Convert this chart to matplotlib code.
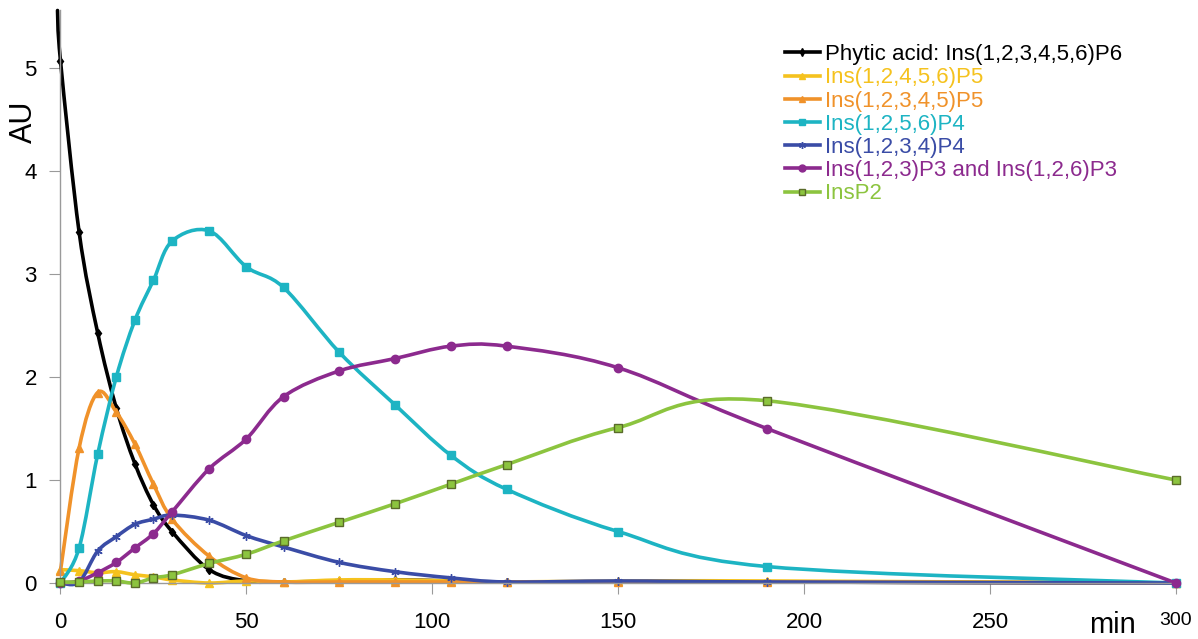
import numpy as np
import matplotlib
matplotlib.use("Agg")
import matplotlib.pyplot as plt
from matplotlib.path import Path
from matplotlib.patches import PathPatch
from matplotlib.lines import Line2D

plt.rcParams['font.family'] = ['Liberation Sans', 'DejaVu Sans']

# sampling times (min)
t = [0, 5, 10, 15, 20, 25, 30, 40, 50, 60, 75, 90, 105, 120, 150, 190, 300]

ip6 = [5.07, 3.41, 2.43, 1.70, 1.16, 0.76, 0.50, 0.13, 0.02, 0.01, 0.02, 0.03, 0.02, 0.01, 0.01, 0.01, 0.0]
ip5a = [0.13, 0.12, 0.10, 0.11, 0.08, 0.06, 0.03, 0.0, 0.02, 0.01, 0.03, 0.03, 0.02, 0.01, 0.02, 0.02, 0.0]
ip5b = [0.12, 1.31, 1.85, 1.66, 1.35, 0.96, 0.62, 0.26, 0.05, 0.01, 0.01, 0.01, 0.01, 0.01, 0.01, 0.01, 0.0]
ip4a = [0.0, 0.34, 1.25, 2.00, 2.55, 2.94, 3.32, 3.42, 3.07, 2.87, 2.24, 1.73, 1.24, 0.91, 0.50, 0.16, 0.0]
ip4b = [0.0, 0.01, 0.31, 0.45, 0.57, 0.62, 0.66, 0.61, 0.46, 0.35, 0.20, 0.11, 0.05, 0.01, 0.02, 0.01, 0.0]
ip3 = [0.0, 0.02, 0.10, 0.20, 0.34, 0.48, 0.69, 1.11, 1.40, 1.81, 2.06, 2.18, 2.30, 2.30, 2.09, 1.50, 0.0]
ip2 = [0.01, 0.01, 0.02, 0.02, 0.0, 0.05, 0.08, 0.19, 0.28, 0.41, 0.59, 0.77, 0.96, 1.15, 1.51, 1.77, 1.00]

labels = ["Phytic acid: Ins(1,2,3,4,5,6)P6", "Ins(1,2,4,5,6)P5", "Ins(1,2,3,4,5)P5",
          "Ins(1,2,5,6)P4", "Ins(1,2,3,4)P4", "Ins(1,2,3)P3 and Ins(1,2,6)P3", "InsP2"]
colors = ["#000000", "#F5C21E", "#F0922A", "#1DB4C3", "#3A4CA6", "#8C2A8E", "#8CC43F"]
markers = ["d", "^", "^", "s", (6, 2, 0), "o", "s"]


def smooth_path(x, y):
    # Excel-like smoothed line: cubic bezier through every point
    p = np.column_stack([x, y]).astype(float)
    n = len(p)
    verts = [p[0]]
    codes = [Path.MOVETO]
    for i in range(n - 1):
        p0 = p[i - 1] if i > 0 else p[i]
        p3 = p[i + 2] if i + 2 < n else p[i + 1]
        c1 = p[i] + (p[i + 1] - p0) / 6
        c2 = p[i + 1] - (p3 - p[i]) / 6
        verts += [c1, c2, p[i + 1]]
        codes += [Path.CURVE4] * 3
    return Path(verts, codes)


fig = plt.figure(figsize=(11.98, 6.39), dpi=100)
ax = fig.add_axes([0.0505, 0.0876, 0.931, 0.896])

series = [ip6, ip5a, ip5b, ip4a, ip4b, ip3, ip2]
order = [6, 5, 4, 3, 1, 2, 0]
for k in order:
    v = series[k]
    c = colors[k]
    xs, ys = t, v
    if k == 0:
        # curve runs off the top of the axis before the first sample
        xs, ys = [-0.8] + t, [5.56] + v
    patch = PathPatch(smooth_path(xs, ys), facecolor='none', edgecolor=c, lw=2.6,
                      clip_on=False, zorder=2 + k * 0.1, capstyle='round')
    ax.add_patch(patch)
    mec = "#5a6b2a" if k == 6 else c
    ax.plot(t, v, ls='none', marker=markers[k], ms=6 if k != 0 else 4.5,
            mfc=c, mec=mec, mew=1.0, clip_on=False, zorder=2.05 + k * 0.1)

handles = []
for k in range(7):
    mec = "#5a6b2a" if k == 6 else colors[k]
    handles.append(Line2D([], [], color=colors[k], lw=2.6, marker=markers[k],
                          ms=5 if k != 0 else 4, mfc=colors[k], mec=mec))

ax.set_xlim(0, 300)
ax.set_ylim(0, 5.56)
ax.set_xticks([0, 50, 100, 150, 200, 250, 300])
ax.set_yticks([0, 1, 2, 3, 4, 5])
ax.spines['top'].set_visible(False)
ax.spines['right'].set_visible(False)
for s in ['left', 'bottom']:
    ax.spines[s].set_color('#9a9a9a')
    ax.spines[s].set_linewidth(1.0)
ax.tick_params(axis='both', direction='out', length=8, color='#9a9a9a', labelsize=16)
ax.tick_params(axis='x', pad=13)
ax.tick_params(axis='y', pad=9)
xl = ax.get_xticklabels()
xl[-1].set_fontsize(14)

fig.text(0.020, 0.81, "AU", rotation=90, fontsize=22, ha='center', va='center')
fig.text(0.929, 0.0, "min", fontsize=21, ha='center', va='bottom')

leg = ax.legend(handles, labels, loc='upper left', bbox_to_anchor=(0.655, 0.931),
                bbox_transform=fig.transFigure, frameon=False, fontsize=16,
                handlelength=1.6, handletextpad=0.2, labelspacing=0.1,
                borderaxespad=0, borderpad=0)
for txt, c in zip(leg.get_texts(), colors):
    txt.set_color(c)

fig.savefig("out.png", dpi=100)
